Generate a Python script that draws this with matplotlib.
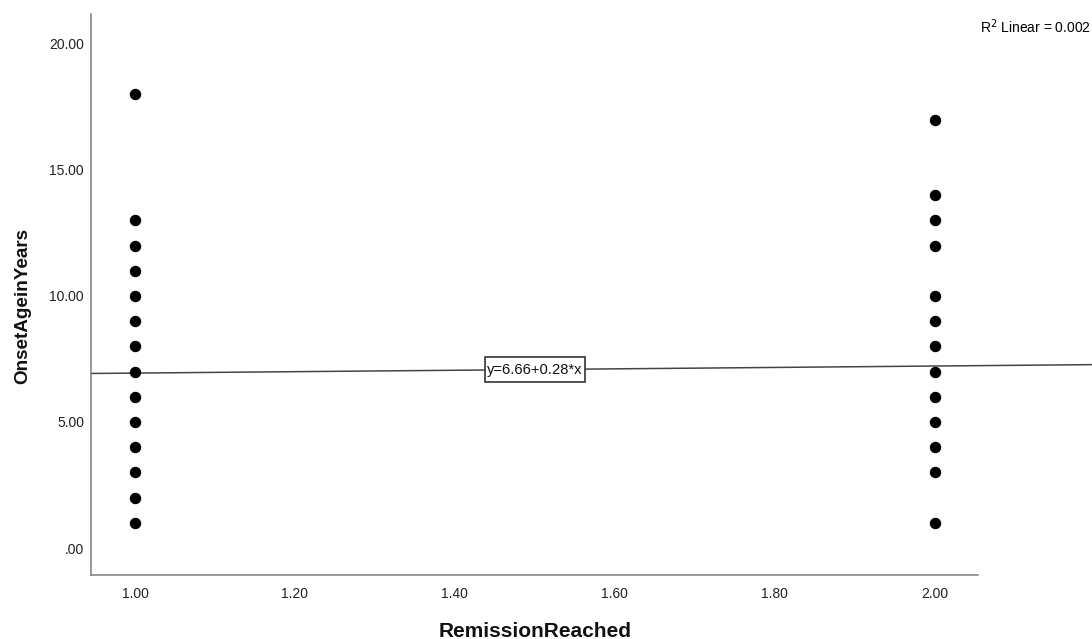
import numpy as np
import matplotlib
matplotlib.use("Agg")
import matplotlib.pyplot as plt
from matplotlib.path import Path

plt.rcParams['font.family'] = ['Liberation Sans', 'DejaVu Sans']

# data
group1_y = [18, 13, 12, 11, 10, 9, 8, 7, 6, 5, 4, 3, 2, 1]
group2_y = [17, 14, 13, 12, 10, 9, 8, 7, 6, 5, 4, 3, 1]
intercept = 6.66
slope = 0.28
fit_label = "y=6.66+0.28*x"
r2_text = "R$^2$ Linear = 0.002"
x_ticks = [1.0, 1.2, 1.4, 1.6, 1.8, 2.0]
y_ticks = [0, 5, 10, 15, 20]


def tall_box(x0, y0, width, height, mutation_size):
    # SPSS style label box: little side padding, more on top and bottom
    px = 0.17 * mutation_size
    py = 0.36 * mutation_size
    x1, y1 = x0 - px, y0 - py
    x2, y2 = x0 + width + px, y0 + height + py
    return Path([(x1, y1), (x2, y1), (x2, y2), (x1, y2), (x1, y1)], closed=True)


fig = plt.figure(figsize=(10.92, 6.39), dpi=100)
ax = fig.add_axes([0.0833, 0.1002, 0.8123, 0.878])

xs = [1.0] * len(group1_y) + [2.0] * len(group2_y)
ys = group1_y + group2_y
ax.scatter(xs, ys, s=52, color='black', zorder=3)

# fit line (runs past the axis end on the right, like SPSS)
xl = np.array([0.945, 2.196])
ax.plot(xl, intercept + slope * xl, color='#444444', lw=1.1, clip_on=False, zorder=2)
xm = 1.5
ax.text(xm, intercept + slope * xm, fit_label, ha='center', va='center',
        fontsize=10.6, color='#111111', zorder=4,
        bbox=dict(boxstyle=tall_box, fc='white', ec='#333333', lw=1.2))

ax.set_xlim(0.945, 2.054)
ax.set_ylim(-1.07, 21.19)
ax.set_xticks(x_ticks)
ax.set_xticklabels([f"{v:.2f}" for v in x_ticks])
ax.set_yticks(y_ticks)
ax.set_yticklabels([f"{v:.2f}" if v != 0 else ".00" for v in y_ticks])
ax.tick_params(length=0, labelsize=10, colors='#222222')
ax.tick_params(axis='x', pad=9)
ax.tick_params(axis='y', pad=5)

for s in ['top', 'right']:
    ax.spines[s].set_visible(False)
for s in ['left', 'bottom']:
    ax.spines[s].set_color('#888888')
    ax.spines[s].set_linewidth(1.2)

fig.text(535 / 1092, 2 / 639, "RemissionReached", ha='center', va='baseline',
         fontsize=15, fontweight='bold', color='#111111')
fig.text(27 / 1092, 333 / 639, "OnsetAgeinYears", rotation=90, rotation_mode='anchor',
         ha='center', va='baseline', fontsize=13.6, fontweight='bold', color='#111111')

fig.text(1091 / 1092, 612 / 639, r2_text, ha='right', va='center', fontsize=10)

fig.savefig("out.png", dpi=100)
